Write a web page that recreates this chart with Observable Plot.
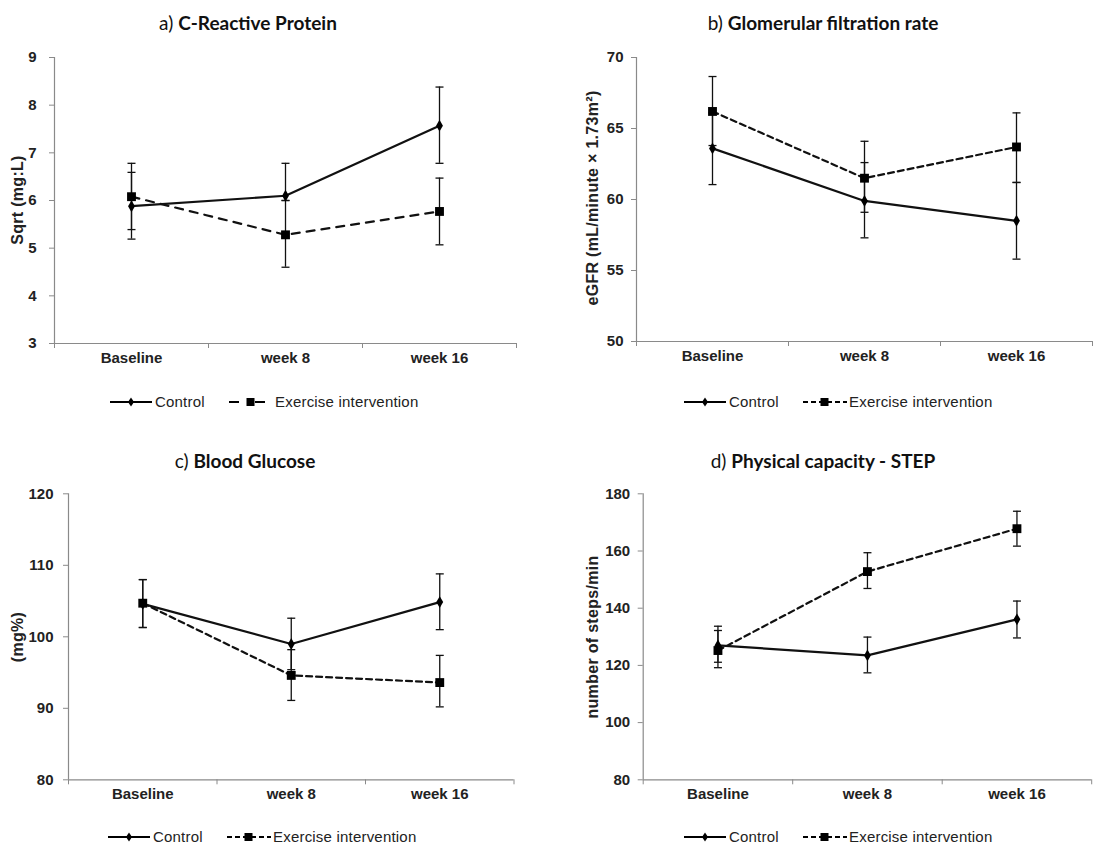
<!DOCTYPE html>
<html><head><meta charset="utf-8">
<script src="https://cdn.jsdelivr.net/npm/d3@7"></script>
<script src="https://cdn.jsdelivr.net/npm/@observablehq/plot@0.6"></script>
<style>
body{margin:0;background:#fff;}
#root{position:relative;width:1118px;height:849px;overflow:hidden;background:#fff;font-family:"Liberation Sans",Arial,sans-serif;}
.title{position:absolute;font-family:Lato,"Open Sans",sans-serif;font-size:19px;color:#111;white-space:nowrap;transform:translate(-50%,-50%);}
.title .lab{font-weight:400;}
.title .txt{font-weight:700;}
.ylab{position:absolute;font-size:16px;font-weight:bold;color:#222;white-space:nowrap;transform:translate(-50%,-50%) rotate(-90deg);letter-spacing:0.3px;}
.panel{position:absolute;}
.legend{position:absolute;height:16px;width:320px;font-size:15px;color:#222;white-space:nowrap;letter-spacing:0.2px;}
.legend > *{position:absolute;top:0;}
.legend span{line-height:16px;}
</style></head><body><div id="root"></div>
<script>
// ---- data ----
const categories = ["Baseline", "week 8", "week 16"];
const seriesNames = ["Control", "Exercise intervention"];

// a) C-Reactive Protein
const crpControl    = [5.88, 6.10, 7.57];
const crpControlLo  = [5.19, 6.00, 6.78];
const crpControlHi  = [6.59, 6.78, 8.38];
const crpExercise   = [6.08, 5.28, 5.77];
const crpExerciseLo = [5.39, 4.60, 5.07];
const crpExerciseHi = [6.78, 6.00, 6.47];
const crpTicks = [3, 4, 5, 6, 7, 8, 9];

// b) Glomerular filtration rate
const gfrControl    = [63.6, 59.9, 58.5];
const gfrControlLo  = [61.05, 57.3, 55.8];
const gfrControlHi  = [66.1, 62.6, 61.2];
const gfrExercise   = [66.2, 61.5, 63.7];
const gfrExerciseLo = [63.8, 59.1, 61.2];
const gfrExerciseHi = [68.66, 64.1, 66.1];
const gfrTicks = [50, 55, 60, 65, 70];

// c) Blood Glucose
const gluControl    = [104.6, 99.0, 104.85];
const gluControlLo  = [101.3, 95.4, 101.0];
const gluControlHi  = [108.0, 102.6, 108.8];
const gluExercise   = [104.7, 94.6, 93.6];
const gluExerciseLo = [101.3, 91.1, 90.2];
const gluExerciseHi = [108.0, 98.2, 97.4];
const gluTicks = [80, 90, 100, 110, 120];

// d) Physical capacity - STEP
const stepControl    = [127.0, 123.5, 136.1];
const stepControlLo  = [121.1, 117.4, 129.6];
const stepControlHi  = [133.7, 129.9, 142.5];
const stepExercise   = [125.2, 152.8, 167.8];
const stepExerciseLo = [119.2, 146.9, 161.7];
const stepExerciseHi = [132.2, 159.4, 173.9];
const stepTicks = [80, 100, 120, 140, 160, 180];

const panels = [
  {label:"a)", title:"C-Reactive Protein", yLabel:"Sqrt (mg:L)", ticks:crpTicks,
   c:[crpControl, crpControlLo, crpControlHi], e:[crpExercise, crpExerciseLo, crpExerciseHi],
   left:0, top:40, width:559, height:345, mL:54, mR:43, mT:17, mB:42, pad:13, labX:18, labY:200,
   dash:"8,7", legDash:"10,16", tx:248, ty:22, legX:110, legY:394},
  {label:"b)", title:"Glomerular filtration rate", yLabel:"eGFR (mL/minute \u00d7 1.73m\u00b2)", ticks:gfrTicks,
   c:[gfrControl, gfrControlLo, gfrControlHi], e:[gfrExercise, gfrExerciseLo, gfrExerciseHi],
   left:560, top:40, width:558, height:345, mL:76, mR:26, mT:17, mB:44, pad:8, labX:593, labY:198,
   dash:"6,4", legDash:"5,3", tx:823, ty:22, legX:684, legY:394},
  {label:"c)", title:"Blood Glucose", yLabel:"(mg%)", ticks:gluTicks,
   c:[gluControl, gluControlLo, gluControlHi], e:[gluExercise, gluExerciseLo, gluExerciseHi],
   left:0, top:470, width:559, height:345, mL:68, mR:45.5, mT:23.3, mB:35.7, pad:10, labX:18, labY:637,
   dash:"6,4", legDash:"5,3", tx:245, ty:460, legX:108, legY:829},
  {label:"d)", title:"Physical capacity - STEP", yLabel:"number of steps/min", ticks:stepTicks,
   c:[stepControl, stepControlLo, stepControlHi], e:[stepExercise, stepExerciseLo, stepExerciseHi],
   left:560, top:470, width:558, height:345, mL:82.7, mR:26.8, mT:23.3, mB:35.7, pad:8, labX:593, labY:637,
   dash:"6,4", legDash:"5,3", tx:823, ty:460, legX:684, legY:829}
];

const capSymbol = {draw(ctx, size){ const w = Math.sqrt(size / Math.PI); ctx.moveTo(-w, 0); ctx.lineTo(w, 0); }};
const root = document.getElementById("root");
const AX = "#8a8a8a";

for (const p of panels) {
  const rows = [];
  categories.forEach((cat, i) => {
    rows.push({series: seriesNames[0], cat, v: p.c[0][i], lo: p.c[1][i], hi: p.c[2][i]});
    rows.push({series: seriesNames[1], cat, v: p.e[0][i], lo: p.e[1][i], hi: p.e[2][i]});
  });
  const xOf = d => categories.indexOf(d.cat) + 0.5;
  const ctrl = rows.filter(d => d.series === seriesNames[0]);
  const exer = rows.filter(d => d.series === seriesNames[1]);
  const yMin = p.ticks[0], yMax = p.ticks[p.ticks.length - 1];

  const chart = Plot.plot({
    width: p.width, height: p.height,
    marginLeft: p.mL, marginRight: p.mR, marginTop: p.mT, marginBottom: p.mB,
    style: {fontFamily: "'Liberation Sans', Arial, sans-serif", fontSize: "15px", fontWeight: "bold", color: "#222", background: "transparent", overflow: "visible"},
    x: {domain: [0, categories.length]},
    y: {domain: [yMin, yMax]},
    marks: [
      Plot.ruleX([0], {stroke: AX, strokeWidth: 1.2}),
      Plot.ruleY([yMin], {stroke: AX, strokeWidth: 1.2}),
      Plot.axisY({ticks: p.ticks, tickFormat: d => String(d), tickSize: 5, tickPadding: p.pad, stroke: AX, fill: "#222", label: null, fontSize: 15, fontWeight: "bold"}),
      Plot.axisX({ticks: d3.range(categories.length + 1), tickSize: 5, tickFormat: () => "", stroke: AX, label: null}),
      Plot.axisX({ticks: categories.map((c, i) => i + 0.5), tickFormat: v => categories[Math.floor(v)], tickSize: 0, tickPadding: 9, fill: "#222", label: null, fontSize: 15, fontWeight: "bold"}),
      Plot.ruleX(rows, {x: xOf, y1: "lo", y2: "hi", stroke: "#111", strokeWidth: 1.3}),
      Plot.dot(rows, {x: xOf, y: "lo", symbol: capSymbol, r: 4, stroke: "#111", strokeWidth: 1.3, fill: "none"}),
      Plot.dot(rows, {x: xOf, y: "hi", symbol: capSymbol, r: 4, stroke: "#111", strokeWidth: 1.3, fill: "none"}),
      Plot.line(exer, {x: xOf, y: "v", stroke: "#111", strokeWidth: 2.2, strokeDasharray: p.dash}),
      Plot.line(ctrl, {x: xOf, y: "v", stroke: "#111", strokeWidth: 2.2}),
      Plot.dot(exer, {x: xOf, y: "v", symbol: "square", r: 5, fill: "#000"}),
      Plot.dot(ctrl, {x: xOf, y: "v", symbol: "diamond", r: 3.6, fill: "#000"})
    ]
  });
  const wrap = document.createElement("div");
  wrap.className = "panel";
  wrap.style.left = p.left + "px"; wrap.style.top = p.top + "px";
  wrap.appendChild(chart);
  root.appendChild(wrap);

  const yl = document.createElement("div");
  yl.className = "ylab";
  yl.style.left = p.labX + "px"; yl.style.top = p.labY + "px";
  yl.textContent = p.yLabel;
  root.appendChild(yl);

  const t = document.createElement("div");
  t.className = "title";
  t.style.left = p.tx + "px"; t.style.top = p.ty + "px";
  t.innerHTML = `<span class="lab">${p.label}</span> <span class="txt">${p.title}</span>`;
  root.appendChild(t);

  const lg = document.createElement("div");
  lg.className = "legend";
  lg.style.left = p.legX + "px"; lg.style.top = p.legY + "px";
  lg.innerHTML =
    `<svg style="left:0" width="42" height="16"><line x1="0" x2="42" y1="8" y2="8" stroke="#000" stroke-width="2"/><path d="M21,3.5 L24,8 L21,12.5 L18,8Z" fill="#000"/></svg>` +
    `<span style="left:45px">${seriesNames[0]}</span>` +
    `<svg style="left:119px" width="44" height="16"><line x1="0" x2="44" y1="8" y2="8" stroke="#000" stroke-width="2" stroke-dasharray="${p.legDash}"/><rect x="17.5" y="4" width="8" height="8" fill="#000"/></svg>` +
    `<span style="left:165px">${seriesNames[1]}</span>`;
  root.appendChild(lg);
}
</script></body></html>
